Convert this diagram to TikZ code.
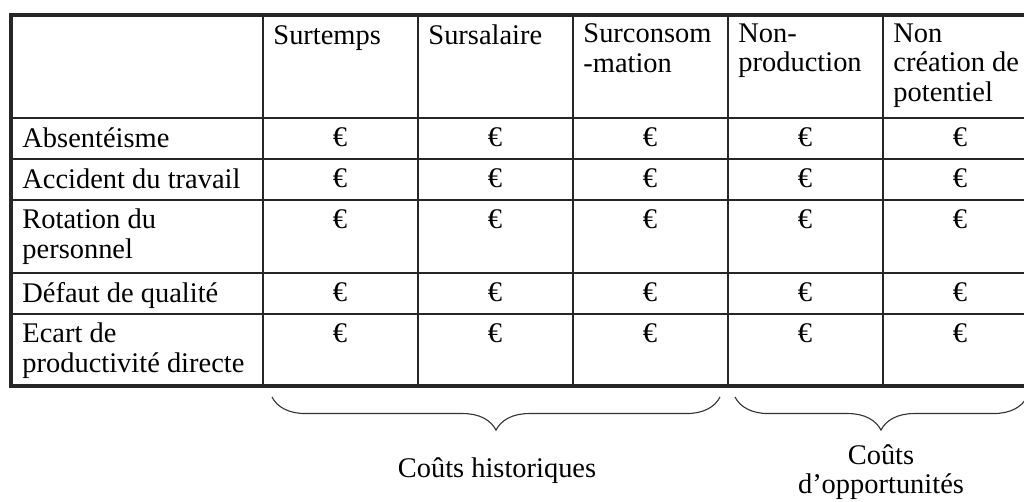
\documentclass[tikz,border=0pt]{standalone}
\usepackage{fontspec}
\setmainfont{Liberation Serif}
\usetikzlibrary{decorations.pathreplacing}
\tikzset{
  thin rule/.style={line width=0.55pt, black!85},
  thick rule/.style={line width=1.6pt, black!85},
  cellhead/.style={anchor=north west, inner sep=0pt, align=left, execute at begin node=\strut},
  cellval/.style={anchor=base, inner sep=0pt},
  costlabel/.style={anchor=north, inner sep=0pt, align=center, execute at begin node=\strut},
  costbrace/.style={decorate, decoration={brace, mirror, amplitude=14.9pt}, line width=0.5pt, black!80}
}

\begin{document}
\begin{tikzpicture}[x=0.45pt, y=-0.45pt, font=\fontsize{12.8}{13.3}\selectfont]
    \useasboundingbox (0,0) rectangle (1024,502);
    \clip (0,0) rectangle (1024,502);
    \foreach \y in {118,159,200,273,314} \draw[thin rule] (11,\y) -- (1024,\y);
    \foreach \x in {263,418,573,728,883} \draw[thin rule] (\x,15) -- (\x,386);
    \draw[thick rule] (1024,15) -- (11,15) -- (11,386) -- (1024,386);
    \node[cellhead] (h1) at (273,23.3) {Surtemps};
    \node[cellhead] (h2) at (428,23.3) {Sursalaire};
    \node[cellhead] (h3) at (583,23.3) {Surconsom\\-mation};
    \node[cellhead] (h4) at (738,23.3) {Non-\\production};
    \node[cellhead] (h5) at (893,23.3) {Non\\création de\\potentiel};
    \node[cellhead] (r1) at (22,126.3) {Absentéisme};
    \node[cellhead] (r2) at (22,167.3) {Accident du travail};
    \node[cellhead] (r3) at (22,208.3) {Rotation du\\personnel};
    \node[cellhead] (r4) at (22,281.3) {Défaut de qualité};
    \node[cellhead] (r5) at (22,322.3) {Ecart de\\productivité directe};
    \foreach \r/\y in {1/118,2/159,3/200,4/273,5/314}
      \foreach \c/\x in {1/340,2/495,3/650,4/805,5/960}
        \node[cellval] (e\r\c) at (\x,\y+29) {€};
    \coordinate (hA) at (272,397);
    \coordinate (hB) at (720,397);
    \coordinate (oA) at (735,397);
    \coordinate (oB) at (1027,397);
    \draw[costbrace] (hA) -- (hB);
    \draw[costbrace] (oA) -- (oB);
    \node[costlabel] (lh) at (497,456) {Coûts historiques};
    \node[costlabel] (lo) at (881,444) {Coûts\\d’opportunités};
\end{tikzpicture}
\end{document}
